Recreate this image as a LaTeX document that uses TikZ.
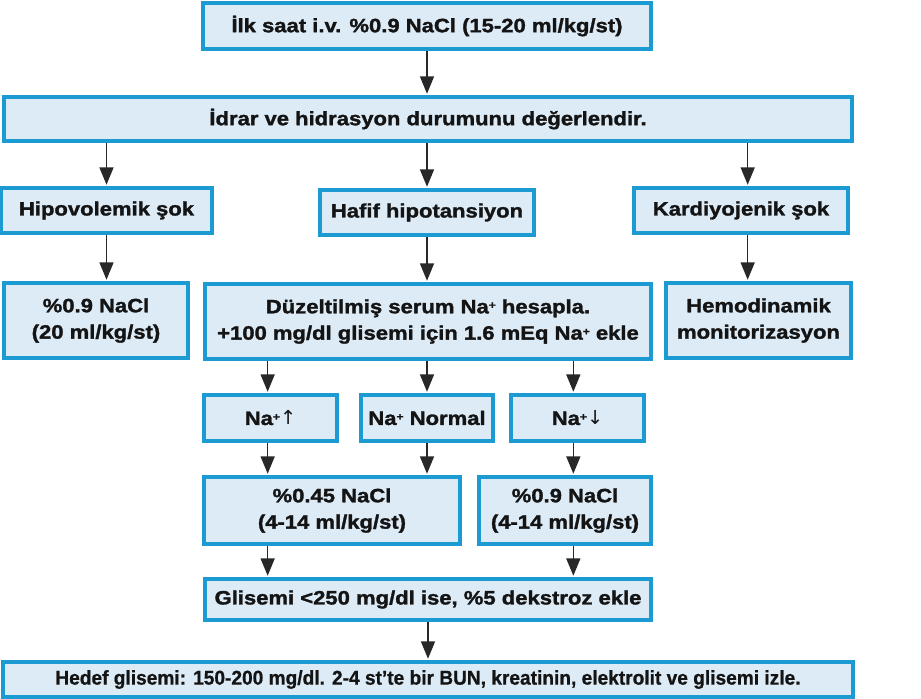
\documentclass[tikz,border=0pt]{standalone}
\usepackage{fontspec}
\setmainfont{Liberation Sans}
\newfontfamily\boxfont[FakeStretch=1.14, FakeBold=1.6]{Liberation Sans}
\newfontfamily\narrowfont[FakeStretch=0.96, FakeBold=0.8]{Liberation Sans}
\newfontfamily\arrowfont{DejaVu Sans}
\usetikzlibrary{arrows.meta}
\definecolor{mblue}{RGB}{27, 155, 210}
\definecolor{mfill}{RGB}{221, 235, 247}
\definecolor{mtext}{RGB}{20, 20, 20}
\definecolor{marrow}{RGB}{40, 40, 40}
\tikzset{box/.style = {draw=mblue, fill=mfill, line width=2.7pt, text=mtext, align=center,
                       inner sep=0, font=\boxfont\bfseries\fontsize{16.5}{22.5}\selectfont}}
\tikzset{arr/.style = {draw=marrow, line width=1.2pt,
                       -{Triangle[width=0.42cm, length=0.52cm]}, shorten >=0.05cm}}
\newcommand{\nap}{Na\raisebox{0.45ex}{\fontsize{9}{9}\selectfont +}}

\begin{document}
\begin{tikzpicture}
    \useasboundingbox (0, 0) rectangle (27.63, -20.97);

    \node (ilk) at (12.81, -0.78) [box, minimum width=13.44cm, minimum height=1.38cm]
      {İlk saat i.v. \%0.9 NaCl (15-20 ml/kg/st)};
    \node (idrar) at (12.84, -3.57) [box, minimum width=25.44cm, minimum height=1.32cm]
      {İdrar ve hidrasyon durumunu değerlendir.};

    \node (hipo) at (3.195, -6.315) [box, minimum width=6.33cm, minimum height=1.35cm] {Hipovolemik şok};
    \node (hafif) at (12.81, -6.375) [box, minimum width=6.42cm, minimum height=1.35cm] {Hafif hipotansiyon};
    \node (kard) at (22.23, -6.315) [box, minimum width=6.42cm, minimum height=1.35cm] {Kardiyojenik şok};

    \node (serum) at (2.88, -9.615) [box, minimum width=5.52cm, minimum height=2.25cm]
      {\%0.9 NaCl\\(20 ml/kg/st)};
    \node (duz) at (12.84, -9.645) [box, minimum width=13.38cm, minimum height=2.25cm]
      {Düzeltilmiş serum \nap{} hesapla.\\+100 mg/dl glisemi için 1.6 mEq \nap{} ekle};
    \node (hemo) at (22.755, -9.615) [box, minimum width=5.55cm, minimum height=2.25cm]
      {Hemodinamik\\monitorizasyon};

    \node (naup) at (8.115, -12.54) [box, minimum width=3.99cm, minimum height=1.38cm]
      {\nap{\arrowfont\mdseries ↑}};
    \node (nanorm) at (12.81, -12.54) [box, minimum width=3.96cm, minimum height=1.38cm]
      {\nap{} Normal};
    \node (nadown) at (17.325, -12.54) [box, minimum width=3.99cm, minimum height=1.38cm]
      {\nap{\arrowfont\mdseries ↓}};

    \node (yarim) at (9.96, -15.315) [box, minimum width=7.68cm, minimum height=2.01cm]
      {\%0.45 NaCl\\(4-14 ml/kg/st)};
    \node (tam) at (16.95, -15.315) [box, minimum width=5.16cm, minimum height=2.01cm]
      {\%0.9 NaCl\\(4-14 ml/kg/st)};

    \node (glis) at (12.84, -17.985) [box, minimum width=13.38cm, minimum height=1.23cm]
      {Glisemi <250 mg/dl ise, \%5 dekstroz ekle};
    \node (hedef) at (12.84, -20.385) [box, minimum width=25.5cm, minimum height=1.05cm,
                                       font=\narrowfont\bfseries\fontsize{17}{19}\selectfont]
      {Hedef glisemi: 150-200 mg/dl. 2-4 st’te bir BUN, kreatinin, elektrolit ve glisemi izle.};

    \coordinate (colL) at (8.03, 0);
    \coordinate (colR) at (17.2, 0);
    \coordinate (colK) at (22.43, 0);

    \draw [arr] (ilk.south) -- (ilk.south |- idrar.north);
    \draw [arr] (idrar.south -| hipo) -- (hipo);
    \draw [arr] (idrar.south -| ilk) -- (ilk |- hafif.north);
    \draw [arr] (idrar.south -| colK) -- (kard.north -| colK);

    \draw [arr] (hipo) -- (hipo |- serum.north);
    \draw [arr] (hafif) -- (hafif |- duz.north);
    \draw [arr] (kard.south -| colK) -- (hemo.north -| colK);

    \draw [arr] (duz.south -| colL) -- (naup.north -| colL);
    \draw [arr] (duz.south -| nanorm) -- (nanorm);
    \draw [arr] (duz.south -| colR) -- (nadown.north -| colR);

    \draw [arr] (naup.south -| colL) -- (yarim.north -| colL);
    \draw [arr] (nanorm) -- (nanorm |- yarim.north);
    \draw [arr] (nadown.south -| colR) -- (tam.north -| colR);

    \draw [arr] (yarim.south -| colL) -- (glis.north -| colL);
    \draw [arr] (tam.south -| colR) -- (glis.north -| colR);
    \draw [arr] (glis) -- (glis |- hedef.north);
\end{tikzpicture}
\end{document}
